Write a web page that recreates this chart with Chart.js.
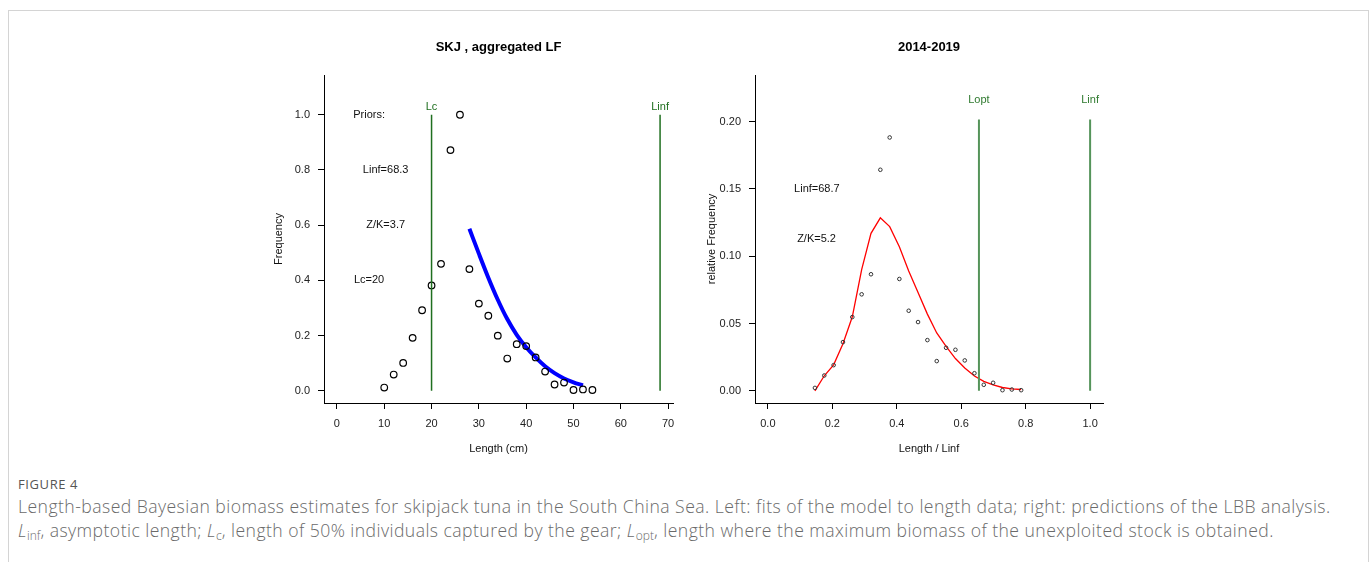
<!DOCTYPE html>
<html>
<head>
<meta charset="utf-8">
<script src="https://cdn.jsdelivr.net/npm/chart.js@4.4.1/dist/chart.umd.min.js"></script>
<style>
    html, body { margin: 0; padding: 0; background: #fff; }
    body { width: 1372px; height: 562px; position: relative; overflow: hidden; }
    .frame { position: absolute; left: 8px; top: 10px; width: 1359px; height: 600px; border: 1px solid #d4d4d4; }
    .box { position: absolute; top: 20px; width: 440px; height: 450px; }
    #left { left: 250px; }
    #right { left: 680px; }
    .cap { position: absolute; left: 18px; font-family: 'Open Sans', sans-serif; color: #6a6a6a; }
    .fig { top: 475px; font-size: 13px; letter-spacing: 0.6px; color: #555; }
    .txt { top: 494px; font-size: 17.6px; letter-spacing: 0.45px; font-weight: 300; line-height: 24px; white-space: nowrap; }
    .txt sub { font-size: 12px; vertical-align: -3px; line-height: 0; letter-spacing: 0; }
</style>
</head>
<body>
<div class="frame"></div>
<div class="box" id="left"><canvas id="skj"></canvas></div>
<div class="box" id="right"><canvas id="lbb"></canvas></div>
<div class="cap fig">FIGURE 4</div>
<div class="cap txt">Length-based Bayesian biomass estimates for skipjack tuna in the South China Sea. Left: fits of the model to length data; right: predictions of the LBB analysis.<br><i>L</i><sub>inf</sub>, asymptotic length; <i>L</i><sub>c</sub>, length of 50% individuals captured by the gear; <i>L</i><sub>opt</sub>, length where the maximum biomass of the unexploited stock is obtained.</div>

<script>
// left panel: aggregated length frequencies
const lengths = [10, 12, 14, 16, 18, 20, 22, 24, 26, 28, 30, 32, 34, 36, 38, 40, 42, 44, 46, 48, 50, 52, 54];
const freq = [0.012, 0.059, 0.101, 0.192, 0.292, 0.382, 0.460, 0.872, 1.0, 0.441, 0.316, 0.272, 0.200, 0.117,
    0.169, 0.162, 0.121, 0.070, 0.023, 0.030, 0.003, 0.005, 0.003];
const fitLengths = [28, 30, 32, 34, 36, 38, 40, 42, 44, 46, 48, 50, 52];
const fitFreq = [0.587, 0.497, 0.410, 0.330, 0.260, 0.203, 0.158, 0.121, 0.089, 0.064, 0.045, 0.031, 0.020];
const Lc = 20;
const LinfPrior = 68.3;
const leftXTicks = [0, 10, 20, 30, 40, 50, 60, 70];
const leftYTicks = [0, 0.2, 0.4, 0.6, 0.8, 1.0];

// right panel: relative length (L / Linf)
const relLength = [0.146, 0.175, 0.204, 0.233, 0.262, 0.291, 0.320, 0.349, 0.378, 0.408, 0.437, 0.466,
    0.495, 0.524, 0.553, 0.582, 0.611, 0.641, 0.670, 0.699, 0.728, 0.757, 0.786];
const relFreq = [0.0022, 0.0114, 0.0191, 0.0362, 0.0548, 0.0717, 0.0866, 0.1642, 0.1882, 0.0831, 0.0595, 0.0511,
    0.0377, 0.0221, 0.0320, 0.0305, 0.0226, 0.0131, 0.0045, 0.0060, 0.0005, 0.0010, 0.0005];
const relPred = [0.0, 0.0112, 0.0193, 0.035, 0.055, 0.090, 0.117, 0.1285, 0.122, 0.107, 0.089, 0.073,
    0.057, 0.043, 0.033, 0.024, 0.017, 0.011, 0.007, 0.0045, 0.0025, 0.0015, 0.001];
const LoptRel = 0.655;
const LinfRel = 1.0;
const rightXTicks = [0, 0.2, 0.4, 0.6, 0.8, 1.0];
const rightYTicks = [0, 0.05, 0.10, 0.15, 0.20];

const FONT = 'Liberation Sans, Arial, Helvetica, sans-serif';
const green = '#1f6f1f';

function pts(xs, ys) {
    return xs.map((x, i) => ({ x: x, y: ys[i] }));
}

function axis(min, max, ticks, digits, width, height) {
    return {
        type: 'linear',
        min: min,
        max: max,
        afterBuildTicks: s => { s.ticks = ticks.map(v => ({ value: v })); },
        afterFit: s => {
            if (width) s.width = width;
            if (height) s.height = height;
        },
        ticks: {
            callback: v => v.toFixed(digits),
            color: '#222',
            font: { family: FONT, size: 11 },
            padding: 8,
            maxRotation: 0,
            autoSkip: false
        },
        grid: {
            drawOnChartArea: false,
            drawTicks: true,
            tickLength: 6,
            color: '#000',
            lineWidth: 1
        },
        border: { display: true, color: '#000', width: 1 }
    };
}

// texts placed in data units, R style
const annotate = {
    id: 'annotate',
    afterDraw(chart, args, opts) {
        const { ctx, scales: { x, y }, chartArea } = chart;
        ctx.save();
        ctx.textAlign = 'center';
        ctx.textBaseline = 'middle';
        const cx = (chartArea.left + chartArea.right) / 2;
        ctx.fillStyle = '#000';
        ctx.font = 'bold 13px ' + FONT;
        ctx.fillText(opts.title, cx, 27);
        ctx.font = '11px ' + FONT;
        ctx.fillStyle = '#111';
        ctx.fillText(opts.xTitle, cx, 429);
        ctx.save();
        ctx.translate(opts.yTitleX, (chartArea.top + chartArea.bottom) / 2);
        ctx.rotate(-Math.PI / 2);
        ctx.fillText(opts.yTitle, 0, 0);
        ctx.restore();
        opts.labels.forEach(l => {
            ctx.fillStyle = l.color || '#111';
            ctx.fillText(l.text, x.getPixelForValue(l.x), y.getPixelForValue(l.y));
        });
        ctx.restore();
    }
};

function vline(xv, top, color, width) {
    return {
        type: 'line',
        data: [{ x: xv, y: 0 }, { x: xv, y: top }],
        borderColor: color,
        borderWidth: width,
        pointRadius: 0,
        showLine: true
    };
}

const common = {
    responsive: true,
    maintainAspectRatio: false,
    animation: false,
    events: [],
    plugins: { legend: { display: false }, tooltip: { enabled: false }, title: { display: false } }
};

new Chart(document.getElementById('skj'), {
    type: 'scatter',
    data: {
        datasets: [
            vline(Lc, 1.0, green, 1.5),
            vline(LinfPrior, 1.0, green, 1.5),
            {
                data: pts(lengths, freq),
                pointStyle: 'circle',
                pointRadius: 3.3,
                pointBorderWidth: 1.2,
                borderColor: '#000',
                backgroundColor: 'rgba(0,0,0,0)',
                showLine: false
            },
            {
                type: 'line',
                data: pts(fitLengths, fitFreq),
                borderColor: '#0000ff',
                borderWidth: 4,
                pointRadius: 0,
                cubicInterpolationMode: 'monotone',
                showLine: true
            }
        ]
    },
    options: {
        ...common,
        layout: { padding: { left: 0, top: 55, right: 17, bottom: 0 } },
        scales: {
            x: axis(-2.732, 71.032, leftXTicks, 0, null, 67),
            y: axis(-0.044, 1.144, leftYTicks, 1, 74, null)
        },
        plugins: {
            ...common.plugins,
            annotate: {
                title: 'SKJ , aggregated LF',
                xTitle: 'Length (cm)',
                yTitle: 'Frequency',
                yTitleX: 29,
                labels: [
                    { text: 'Priors:', x: 6.8, y: 1.0 },
                    { text: 'Linf=68.3', x: 10.3, y: 0.8 },
                    { text: 'Z/K=3.7', x: 10.3, y: 0.6 },
                    { text: 'Lc=20', x: 6.8, y: 0.4 },
                    { text: 'Lc', x: Lc, y: 1.03, color: green },
                    { text: 'Linf', x: LinfPrior, y: 1.03, color: green }
                ]
            }
        }
    },
    plugins: [annotate]
});

new Chart(document.getElementById('lbb'), {
    type: 'scatter',
    data: {
        datasets: [
            vline(LoptRel, 0.2015, '#55945a', 2),
            vline(LinfRel, 0.2015, '#55945a', 2),
            {
                data: pts(relLength, relFreq),
                pointStyle: 'circle',
                pointRadius: 1.8,
                pointBorderWidth: 1,
                borderColor: '#333',
                backgroundColor: 'rgba(0,0,0,0)',
                showLine: false
            },
            {
                type: 'line',
                data: pts(relLength, relPred),
                borderColor: '#ff0000',
                borderWidth: 1.3,
                pointRadius: 0,
                tension: 0,
                showLine: true
            }
        ]
    },
    options: {
        ...common,
        layout: { padding: { left: 0, top: 55, right: 17, bottom: 0 } },
        scales: {
            x: axis(-0.04, 1.04, rightXTicks, 1, null, 67),
            y: axis(-0.00902, 0.2346, rightYTicks, 2, 75, null)
        },
        plugins: {
            ...common.plugins,
            annotate: {
                title: '2014-2019',
                xTitle: 'Length / Linf',
                yTitle: 'relative Frequency',
                yTitleX: 32,
                labels: [
                    { text: 'Linf=68.7', x: 0.152, y: 0.15 },
                    { text: 'Z/K=5.2', x: 0.151, y: 0.113 },
                    { text: 'Lopt', x: LoptRel, y: 0.216, color: '#2f7a2f' },
                    { text: 'Linf', x: LinfRel, y: 0.216, color: '#2f7a2f' }
                ]
            }
        }
    },
    plugins: [annotate]
});
</script>
</body>
</html>
